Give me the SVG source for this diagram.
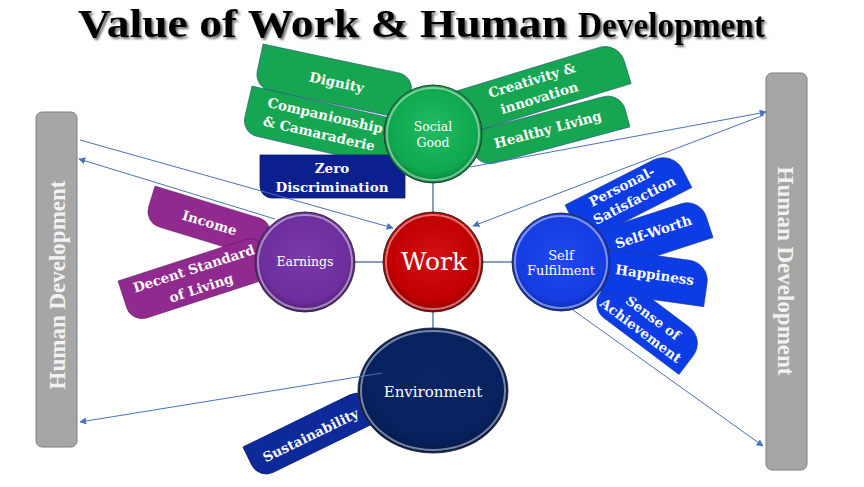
<svg xmlns="http://www.w3.org/2000/svg" width="864" height="487" viewBox="0 0 864 487">
<defs>
<style>
.title{font-family:"Liberation Serif","Times New Roman",serif;font-weight:bold;fill:#000}
.bar{fill:#a6a6a6;stroke:#7f7f7f;stroke-width:1}
.bartxt{font-family:"Liberation Serif",serif;font-weight:bold;font-size:23px;fill:#f2f2f2;text-anchor:middle}
.pt{font-family:"DejaVu Serif",serif;font-weight:bold;font-size:13.5px;fill:#fff;text-anchor:middle}
.ct{font-family:"DejaVu Serif",serif;fill:#fff;text-anchor:middle}
.green{fill:#16a550;stroke:#1f4e79;stroke-width:0.8;stroke-opacity:0.7}
.navy{fill:#0c1f8f;stroke:#0a1a6a;stroke-width:0.8}
.purple{fill:#912a8f;stroke:#5a1a5a;stroke-width:0.8;stroke-opacity:0.6}
.blue{fill:#0b3ce6;stroke:#1f3a8a;stroke-width:0.8;stroke-opacity:0.7}
.sust{fill:#0c2a9a;stroke:#0a1a6a;stroke-width:0.8}
.ring{fill:none;stroke:#fff;stroke-opacity:0.45;stroke-width:2}
.edge{stroke:#2b2b2b;stroke-width:0.9}
.link{stroke:#6d86a8;stroke-width:1.6;fill:none}
.arrow{stroke:#4a72b8;stroke-width:1;fill:none;marker-end:url(#ah)}
</style>
<marker id="ah" viewBox="0 0 10 10" refX="9" refY="5" markerWidth="7" markerHeight="7" markerUnits="userSpaceOnUse" orient="auto">
<path d="M0,0 L10,5 L0,10 Z" fill="#4a72b8"/>
</marker>
<filter id="sh" x="-5%" y="-30%" width="110%" height="170%">
<feDropShadow dx="2" dy="2" stdDeviation="1.2" flood-color="#444" flood-opacity="0.8"/>
</filter>
<radialGradient id="gGreen" cx="50%" cy="45%" r="55%">
<stop offset="0" stop-color="#22bb62"/><stop offset="0.8" stop-color="#0fa84e"/><stop offset="1" stop-color="#07803a"/>
</radialGradient>
<radialGradient id="gRed" cx="50%" cy="45%" r="55%">
<stop offset="0" stop-color="#d21212"/><stop offset="0.8" stop-color="#c00000"/><stop offset="1" stop-color="#8a0000"/>
</radialGradient>
<radialGradient id="gPurple" cx="50%" cy="45%" r="55%">
<stop offset="0" stop-color="#7a38aa"/><stop offset="0.8" stop-color="#6e2f9e"/><stop offset="1" stop-color="#4e1f73"/>
</radialGradient>
<radialGradient id="gBlue" cx="50%" cy="45%" r="55%">
<stop offset="0" stop-color="#2146ee"/><stop offset="0.8" stop-color="#153de2"/><stop offset="1" stop-color="#0c2aa8"/>
</radialGradient>
<radialGradient id="gNavy" cx="50%" cy="45%" r="55%">
<stop offset="0" stop-color="#0b2565"/><stop offset="0.8" stop-color="#08215f"/><stop offset="1" stop-color="#061a4a"/>
</radialGradient>
</defs>
<rect width="864" height="487" fill="#fff"/>

<g id="title" filter="url(#sh)">
<text class="title" x="78" y="37" font-size="41" textLength="489" lengthAdjust="spacingAndGlyphs">Value of Work &amp; Human</text>
<text class="title" x="578" y="37" font-size="35" textLength="187" lengthAdjust="spacingAndGlyphs">Development</text>
</g>

<g id="hd-left">
<rect class="bar" x="36" y="112" width="41" height="335" rx="6"/>
<text class="bartxt" transform="translate(57,285) rotate(-90)" y="8">Human Development</text>
</g>
<g id="hd-right">
<rect class="bar" x="766" y="73" width="41" height="397" rx="6"/>
<text class="bartxt" transform="translate(786,271) rotate(90)" y="8">Human Development</text>
</g>

<g id="dignity" transform="translate(263,44) rotate(12)">
<path class="green" d="M0,0 H139 A16,16 0 0 1 155,16 V44 H16 A16,16 0 0 1 0,28 Z"/>
<text class="pt" x="80" y="27">Dignity</text>
</g>
<g id="companionship" transform="translate(252,86) rotate(13)">
<path class="green" d="M0,0 H144 A16,16 0 0 1 160,16 V48 H16 A16,16 0 0 1 0,32 Z"/>
<text class="pt" x="78" y="17">Companionship</text>
<text class="pt" x="76" y="36">&amp; Camaraderie</text>
</g>
<g id="creativity" transform="translate(450,93) rotate(-17)">
<path class="green" d="M0,0 H156 A20,20 0 0 1 176,20 V44 H20 A20,20 0 0 1 0,24 Z"/>
<text class="pt" x="82" y="16.5">Creativity &amp;</text>
<text class="pt" x="84" y="35.5">innovation</text>
</g>
<g id="healthy" transform="translate(468,133) rotate(-15)">
<path class="green" d="M0,0 H140 A18,18 0 0 1 158,18 V36 H18 A18,18 0 0 1 0,18 Z"/>
<text class="pt" x="78" y="22">Healthy Living</text>
</g>
<g id="zero" transform="translate(260,155)">
<path class="navy" d="M0,0 H145 V43 H12 A12,12 0 0 1 0,31 Z"/>
<text class="pt" x="72" y="18">Zero</text>
<text class="pt" x="72" y="37">Discrimination</text>
</g>

<g id="income" transform="translate(155,186) rotate(17)">
<path class="purple" d="M0,0 H109 A16,16 0 0 1 125,16 V38 H16 A16,16 0 0 1 0,22 Z"/>
<text class="pt" x="63" y="24">Income</text>
</g>
<g id="decent" transform="translate(118,281) rotate(-18)">
<path class="purple" d="M0,0 H134 A16,16 0 0 1 150,16 V44 H16 A16,16 0 0 1 0,28 Z"/>
<text class="pt" x="76" y="16.5">Decent Standard</text>
<text class="pt" x="77" y="37">of Living</text>
</g>

<g id="personal" transform="translate(565,205) rotate(-27)">
<path class="blue" d="M0,0 H99 A22,22 0 0 1 121,22 V42 H18 A18,18 0 0 1 0,24 Z"/>
<text class="pt" x="59" y="14">Personal-</text>
<text class="pt" x="64" y="32">Satisfaction</text>
</g>
<g id="selfworth" transform="translate(585,235) rotate(-18)">
<path class="blue" d="M0,0 H101 A20,20 0 0 1 121,20 V42 H18 A18,18 0 0 1 0,24 Z"/>
<text class="pt" x="66" y="23">Self-Worth</text>
</g>
<g id="sense" transform="translate(616,272) rotate(37)">
<path class="blue" d="M0,0 H92 A20,20 0 0 1 112,20 V44 H18 A18,18 0 0 1 0,26 Z"/>
<text class="pt" x="57" y="19">Sense of</text>
<text class="pt" x="55" y="36.5">Achievement</text>
</g>
<g id="happiness" transform="translate(595,247) rotate(8)">
<path class="blue" d="M0,0 H96 A20,20 0 0 1 116,20 V44 H18 A18,18 0 0 1 0,26 Z"/>
<text class="pt" x="63" y="24">Happiness</text>
</g>

<g id="sustainability" transform="translate(243,447) rotate(-26)">
<path class="sust" d="M0,0 H119 A16,16 0 0 1 135,16 V36 H16 A16,16 0 0 1 0,20 Z"/>
<text class="pt" x="66" y="24">Sustainability</text>
</g>

<g id="links">
<line class="link" x1="433" y1="183" x2="433" y2="212"/>
<line class="link" x1="355" y1="262" x2="383" y2="262"/>
<line class="link" x1="483" y1="262" x2="512" y2="262"/>
<line class="link" x1="433" y1="312" x2="433" y2="328"/>
</g>

<g id="social-good">
<circle class="edge" cx="433" cy="134" r="49" fill="url(#gGreen)"/>
<circle class="ring" cx="433" cy="134" r="46"/>
<text class="ct" x="433" y="131" font-size="12.5">Social</text>
<text class="ct" x="433" y="147" font-size="12.5">Good</text>
</g>
<g id="work">
<circle class="edge" cx="433" cy="262" r="50" fill="url(#gRed)"/>
<circle class="ring" cx="433" cy="262" r="47"/>
<text class="ct" x="434" y="270" font-size="25">Work</text>
</g>
<g id="earnings">
<circle class="edge" cx="305" cy="262" r="50" fill="url(#gPurple)"/>
<circle class="ring" cx="305" cy="262" r="47"/>
<text class="ct" x="305" y="266" font-size="12.5">Earnings</text>
</g>
<g id="self-fulfilment">
<circle class="edge" cx="561" cy="262" r="49" fill="url(#gBlue)"/>
<circle class="ring" cx="561" cy="262" r="46"/>
<text class="ct" x="561" y="260" font-size="13">Self</text>
<text class="ct" x="561" y="275" font-size="13">Fulfilment</text>
</g>
<g id="environment">
<ellipse class="edge" cx="433" cy="390.5" rx="75" ry="62.5" fill="url(#gNavy)"/>
<ellipse class="ring" cx="433" cy="390.5" rx="72" ry="59.5"/>
<text class="ct" x="433" y="397" font-size="15">Environment</text>
</g>

<g id="connectors">
<line class="arrow" x1="80" y1="140" x2="393" y2="228"/>
<line class="arrow" x1="275" y1="219" x2="79" y2="159"/>
<line class="arrow" x1="470" y1="167" x2="766" y2="112"/>
<line class="arrow" x1="764" y1="115" x2="473" y2="226"/>
<line class="arrow" x1="573" y1="310" x2="763" y2="446"/>
<line class="arrow" x1="382" y1="373" x2="80" y2="422"/>
</g>
</svg>
